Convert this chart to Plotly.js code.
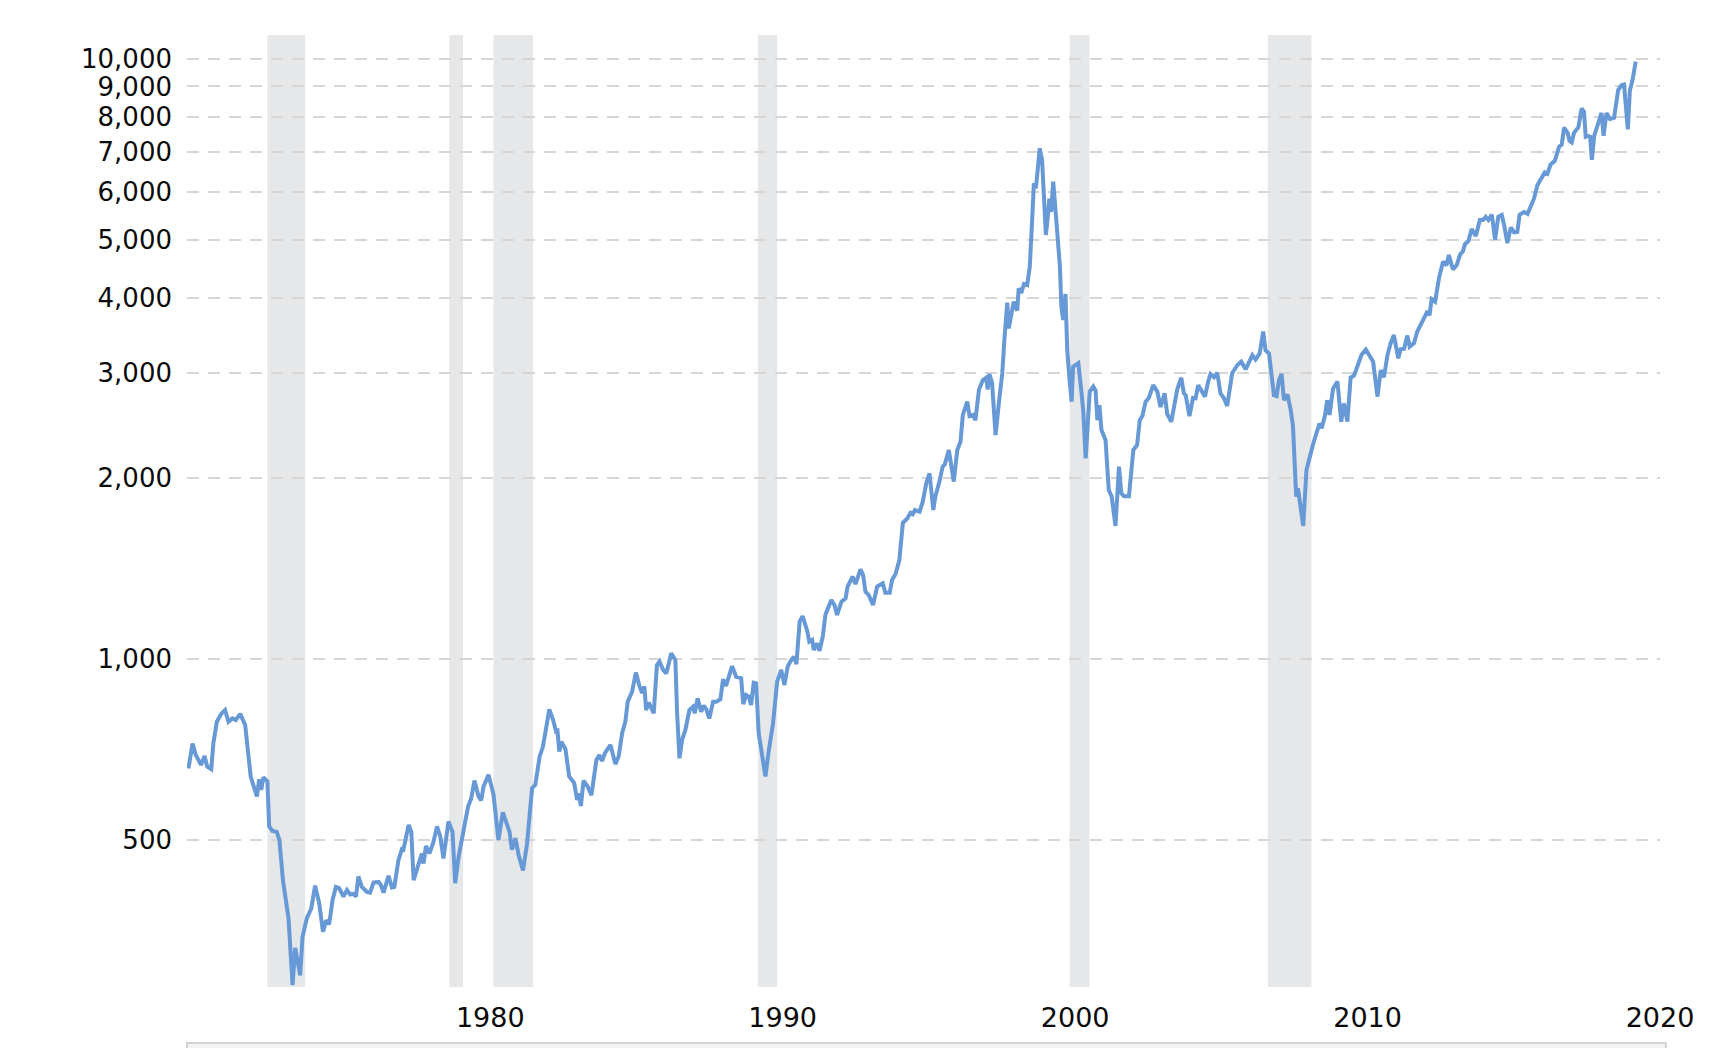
<!DOCTYPE html>
<html>
<head>
<meta charset="utf-8">
<script src="https://cdn.plot.ly/plotly-3.0.1.min.js"></script>
<style>
html,body{margin:0;padding:0;background:#fff;}
#chart{width:1720px;height:1048px;}
</style>
</head>
<body>
<div id="chart"></div>
<script>
// Decimal year positions (as read against the chart's own x axis) and index values
const dates = [
1969.68,1969.82,1969.93,1970.11,1970.23,1970.32,1970.46,1970.53,1970.65,1970.80,1970.93,
1971.05,1971.18,1971.30,1971.45,1971.62,1971.71,1971.81,1972.02,1972.10,1972.17,1972.24,
1972.38,1972.44,1972.55,1972.70,1972.79,1972.91,1973.10,1973.24,1973.33,1973.50,1973.58,
1973.73,1973.88,1974.01,1974.15,1974.28,1974.39,1974.49,1974.61,1974.72,1974.83,1974.98,
1975.10,1975.21,1975.32,1975.41,1975.49,1975.61,1975.78,1975.89,1976.01,1976.18,1976.26,
1976.35,1976.52,1976.64,1976.72,1976.86,1976.98,1977.03,1977.21,1977.30,1977.38,1977.53,
1977.66,1977.72,1977.80,1977.92,1978.06,1978.18,1978.29,1978.40,1978.57,1978.71,1978.80,
1978.92,1979.09,1979.24,1979.35,1979.46,1979.60,1979.69,1979.77,1979.94,
1980.11,1980.28,1980.43,1980.57,1980.66,1980.74,1980.86,1980.97,1981.12,1981.26,1981.43,
1981.54,1981.69,1981.80,1981.92,1982.02,1982.15,1982.25,1982.30,1982.36,1982.43,1982.57,
1982.70,1982.87,1982.97,1983.02,1983.10,1983.19,1983.33,1983.46,1983.63,1983.73,1983.82,
1983.93,1984.11,1984.28,1984.39,1984.51,1984.62,1984.70,1984.85,1984.98,1985.10,1985.19,
1985.27,1985.33,1985.42,1985.50,1985.59,1985.70,1985.79,1985.91,1986.02,1986.19,1986.33,
1986.39,1986.47,1986.56,1986.67,1986.81,1986.93,1986.99,1987.09,1987.21,1987.30,1987.39,
1987.49,1987.62,1987.73,1987.87,1987.96,1988.06,1988.15,1988.27,1988.41,1988.58,1988.65,
1988.75,1988.84,1988.92,1989.01,1989.09,1989.18,1989.30,1989.41,1989.52,1989.67,1989.81,
1989.95,1990.06,1990.17,1990.26,1990.38,1990.47,1990.58,
1990.68,1990.83,1990.91,1991.01,1991.06,1991.18,1991.26,1991.37,1991.46,1991.66,1991.77,
1991.86,1992.01,1992.15,1992.22,1992.39,1992.49,1992.66,1992.75,1992.83,1992.94,1993.09,
1993.23,1993.42,1993.51,1993.66,1993.74,1993.86,1993.99,1994.11,1994.26,1994.37,1994.45,
1994.52,1994.68,1994.79,1994.91,1995.02,1995.15,1995.22,1995.36,1995.47,1995.54,1995.68,
1995.77,1995.85,1995.97,1996.08,1996.16,1996.31,1996.39,1996.50,1996.59,1996.71,1996.84,
1996.96,1997.01,1997.07,1997.16,1997.28,1997.39,1997.51,
1997.58,1997.68,1997.73,1997.85,1997.90,1998.02,1998.07,1998.16,1998.25,1998.36,1998.45,
1998.53,1998.59,1998.66,1998.74,1998.79,1998.87,1998.93,1999.00,1999.07,1999.12,1999.18,
1999.25,1999.31,1999.39,1999.48,1999.53,1999.59,1999.67,1999.73,1999.81,1999.88,1999.93,
2000.05,2000.11,2000.22,2000.28,2000.36,2000.43,2000.50,2000.62,2000.70,2000.76,2000.83,
2000.90,2001.04,2001.15,2001.25,2001.38,2001.50,2001.58,2001.67,2001.84,2001.99,2002.12,
2002.21,2002.30,2002.41,2002.52,2002.67,2002.81,2002.92,2003.06,2003.15,2003.29,2003.40,
2003.49,2003.63,2003.72,2003.78,2003.91,2004.03,
2004.12,2004.21,2004.32,2004.44,2004.55,2004.63,2004.75,2004.86,2004.97,2005.09,2005.20,
2005.37,2005.55,2005.68,2005.83,2005.94,2006.06,2006.17,2006.31,2006.43,2006.51,2006.63,
2006.72,2006.80,2006.89,2006.97,2007.06,2007.14,2007.26,2007.37,2007.45,2007.52,2007.56,
2007.62,2007.71,2007.80,2007.91,2008.00,2008.13,2008.25,2008.36,2008.43,2008.54,2008.62,
2008.70,2008.82,2008.97,2009.10,2009.19,2009.31,2009.42,2009.54,2009.65,2009.79,2009.94,
2010.05,2010.19,2010.34,2010.45,2010.56,2010.68,2010.79,2010.90,
2011.05,2011.13,2011.25,2011.36,2011.44,2011.59,2011.70,2011.82,2011.93,2012.05,2012.12,
2012.19,2012.31,2012.44,2012.58,2012.70,2012.78,2012.92,2013.05,2013.16,2013.26,2013.33,
2013.45,2013.56,2013.70,2013.84,2013.95,2014.04,2014.13,2014.25,2014.36,2014.47,2014.59,
2014.67,2014.78,2014.90,2015.01,2015.12,2015.20,2015.35,2015.47,2015.58,2015.69,2015.81,
2015.95,2016.06,2016.15,2016.26,2016.40,2016.55,2016.64,2016.72,2016.84,2016.91,2016.98,
2017.06,2017.21,2017.32,2017.40,2017.46,2017.54,2017.61,2017.67,2017.75,2017.86,2018.00,
2018.07,2018.17,2018.29,2018.43,2018.57,2018.69,2018.77,2018.83,2018.90,2018.97,2019.06,
2019.17
];
const values = [
657,723,692,666,689,662,655,723,786,810,822,
786,796,791,810,776,705,636,590,630,605,635,
625,526,517,515,499,428,370,286,330,297,344,
370,384,419,392,351,367,361,397,417,415,402,
412,405,406,402,434,417,409,408,424,425,420,
408,435,416,417,462,482,481,529,515,428,451,
474,456,488,474,496,526,506,465,536,515,423,
469,519,567,586,627,590,581,613,641,
595,499,555,532,515,481,503,471,444,493,609,
617,688,714,781,824,791,757,759,701,728,708,
637,621,582,597,569,627,613,593,679,692,676,
698,719,668,688,752,786,849,882,949,902,877,
900,822,846,832,812,977,990,959,946,1022,996,
812,683,733,761,822,832,812,860,817,836,824,
796,849,849,857,925,902,934,973,934,929,841,
871,866,838,913,911,752,688,637,701,781,917,
959,905,971,990,1009,981,1154,
1179,1118,1069,1076,1035,1062,1032,1089,1184,1254,1230,
1184,1246,1262,1320,1372,1333,1411,1380,1295,1278,1230,
1320,1337,1290,1290,1354,1386,1462,1687,1715,1753,1743,
1771,1760,1829,1963,2039,1771,1865,1975,2092,2108,2230,
2092,1975,2230,2302,2551,2685,2540,2551,2500,2808,2914,
2943,2813,2985,2885,2362,2666,2995,
3402,3926,3558,3890,3941,3806,4148,4073,4217,4200,4507,
5392,6205,6087,6700,7099,6790,5897,5090,5495,5850,5562,
6245,5754,5122,4507,3866,3673,4059,3273,2917,2685,3069,
3090,3113,2772,2584,2160,2500,2790,2845,2800,2500,2650,
2408,2317,1912,1865,1666,2092,1888,1868,1868,2230,2273,
2500,2540,2685,2723,2860,2790,2630,2772,2560,2486,2650,
2813,2943,2772,2752,2540,2723,
2720,2860,2808,2737,2900,2985,2948,3000,2772,2720,2640,
2995,3090,3130,3040,3130,3210,3155,3230,3513,3270,3230,
2917,2752,2743,2917,2985,2700,2760,2604,2442,2013,1865,
1925,1783,1666,2065,2160,2273,2378,2470,2424,2540,2700,
2551,2822,2900,2486,2666,2486,2943,2970,3090,3210,3280,
3210,3130,2737,3030,2948,3210,3360,3467,
3170,3283,3290,3460,3316,3360,3513,3610,3673,3800,3740,
3980,3940,4310,4595,4530,4713,4457,4535,4717,4780,4913,
4977,5208,5070,5392,5392,5457,5392,5502,5000,5457,5495,
5290,4932,5240,5140,5150,5502,5560,5520,5700,5850,6166,
6355,6470,6440,6670,6760,7145,7200,7685,7530,7300,7260,
7530,7700,8276,8170,7420,7440,7420,6790,7450,7740,8130,
7450,8130,7940,7980,8878,9050,9070,8370,7635,8860,9225,
9900
];

// Shaded recession periods (start, end) on the chart's x axis
const recessionStarts = [1972.38, 1978.60, 1980.11, 1989.15, 1999.81, 2006.59];
const recessionEnds   = [1973.67, 1979.07, 1981.46, 1989.81, 2000.49, 2008.08];

// Axis ticks
const yTickVals = [500, 1000, 2000, 3000, 4000, 5000, 6000, 7000, 8000, 9000, 10000];
const yTickText = ["500", "1,000", "2,000", "3,000", "4,000", "5,000", "6,000", "7,000", "8,000", "9,000", "10,000"];
const xTickVals = [1980, 1990, 2000, 2010, 2020];
const xTickText = ["1980", "1990", "2000", "2010", "2020"];

const shapes = recessionStarts.map((s, i) => ({
  type: 'rect', xref: 'x', yref: 'paper',
  x0: s, x1: recessionEnds[i], y0: 0, y1: 1,
  fillcolor: '#e6e7e9', line: {width: 0}, layer: 'below'
}));
// navigator strip at the very bottom
shapes.push({
  type: 'rect', xref: 'paper', yref: 'paper',
  x0: 0, x1: 1.004, y0: -0.0588, y1: -0.08,
  fillcolor: '#f3f3f4', line: {color: '#d3d3d6', width: 2}, layer: 'above'
});

const trace = {
  x: dates, y: values, type: 'scatter', mode: 'lines',
  line: {color: '#6699d6', width: 4, shape: 'linear'},
  hoverinfo: 'skip', cliponaxis: true
};

const fontFam = '"DejaVu Sans", Verdana, sans-serif';

const layout = {
  width: 1720, height: 1048,
  margin: {l: 187, r: 60, t: 35, b: 61, pad: 0},
  paper_bgcolor: '#ffffff', plot_bgcolor: '#ffffff',
  showlegend: false,
  font: {family: fontFam, size: 27, color: '#0a0a0a'},
  xaxis: {
    type: 'linear', range: [1969.63, 2020],
    tickmode: 'array', tickvals: xTickVals, ticktext: xTickText,
    showgrid: false, zeroline: false, showline: false, ticks: '',
    ticklabelstandoff: 12,
    tickfont: {family: fontFam, size: 27, color: '#0a0a0a'}
  },
  yaxis: {
    type: 'log', range: [2.4533, 4.04],
    tickmode: 'array', tickvals: yTickVals, ticktext: yTickText,
    showgrid: true, gridcolor: '#d6d6d6', gridwidth: 2, griddash: '12px,9px',
    zeroline: false, showline: false, ticks: '',
    ticklabelstandoff: 14,
    tickfont: {family: fontFam, size: 26, color: '#0a0a0a'}
  },
  shapes: shapes
};

Plotly.newPlot('chart', [trace], layout, {staticPlot: true, displayModeBar: false});
</script>
</body>
</html>
